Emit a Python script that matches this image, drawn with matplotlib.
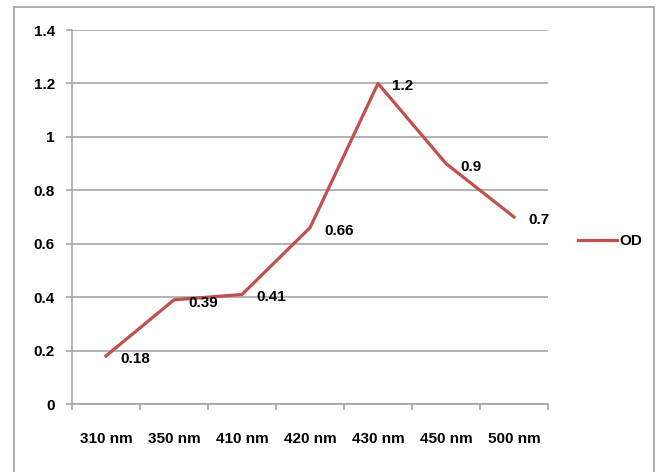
import matplotlib
matplotlib.use("Agg")
import matplotlib.pyplot as plt
from matplotlib.patches import Rectangle

# wavelengths and optical density readings
wavelengths = ['310 nm', '350 nm', '410 nm', '420 nm', '430 nm', '450 nm', '500 nm']
od_values = [0.18, 0.39, 0.41, 0.66, 1.2, 0.9, 0.7]
y_ticks = [0, 0.2, 0.4, 0.6, 0.8, 1.0, 1.2, 1.4]
y_tick_labels = ['0', '0.2', '0.4', '0.6', '0.8', '1', '1.2', '1.4']

plt.rcParams['font.family'] = ['Liberation Sans', 'DejaVu Sans']
grid_gray = '#a6a6a6'
line_red = '#c0504d'
fs = 11

fig = plt.figure(figsize=(6.6, 4.72), dpi=100)
# chart frame, open at the bottom edge of the image
fig.patches.append(Rectangle((14 / 660, -0.05), 640 / 660, 1.05 - 7 / 472,
                             transform=fig.transFigure, fill=False,
                             edgecolor='#a0a0a0', lw=1.2))

ax = fig.add_axes([72 / 660, 68 / 472, 476 / 660, 374 / 472])
x = list(range(len(wavelengths)))
line, = ax.plot(x, od_values, color=line_red, lw=2.3, label='OD')

for xi, v in zip(x, od_values):
    label = ('%g' % v)
    ax.annotate(label, (xi, v), xytext=(14, -3), textcoords='offset pixels',
                ha='left', va='center', fontsize=fs, fontweight='bold',
                color='black')

ax.set_xlim(-0.5, len(wavelengths) - 0.5)
ax.set_ylim(0, 1.4)
ax.set_yticks(y_ticks)
ax.set_yticklabels(y_tick_labels, fontsize=fs, fontweight='bold')
ax.yaxis.grid(True, color=grid_gray, lw=1.2)
ax.set_axisbelow(True)

# category labels between boundary ticks
ax.set_xticks([i - 0.5 for i in range(len(wavelengths) + 1)])
ax.set_xticklabels([])
ax.set_xticks(x, minor=True)
ax.set_xticklabels(wavelengths, minor=True, fontsize=fs, fontweight='bold')
ax.tick_params(axis='x', which='minor', length=0, pad=20)
ax.tick_params(axis='x', which='major', length=4.5, color=grid_gray, width=1.2)
ax.tick_params(axis='y', length=4.3, color=grid_gray, width=1.2, pad=8)

for side in ['top', 'right']:
    ax.spines[side].set_visible(False)
for side in ['left', 'bottom']:
    ax.spines[side].set_color(grid_gray)
    ax.spines[side].set_linewidth(1.2)

fig.legend(handles=[line], labels=['OD'], loc='center left',
           bbox_to_anchor=(564 / 660, (472 - 241) / 472), frameon=False,
           prop={'weight': 'bold', 'size': fs}, handlelength=2.6,
           handletextpad=0.1)

fig.savefig('out.png', dpi=100)
